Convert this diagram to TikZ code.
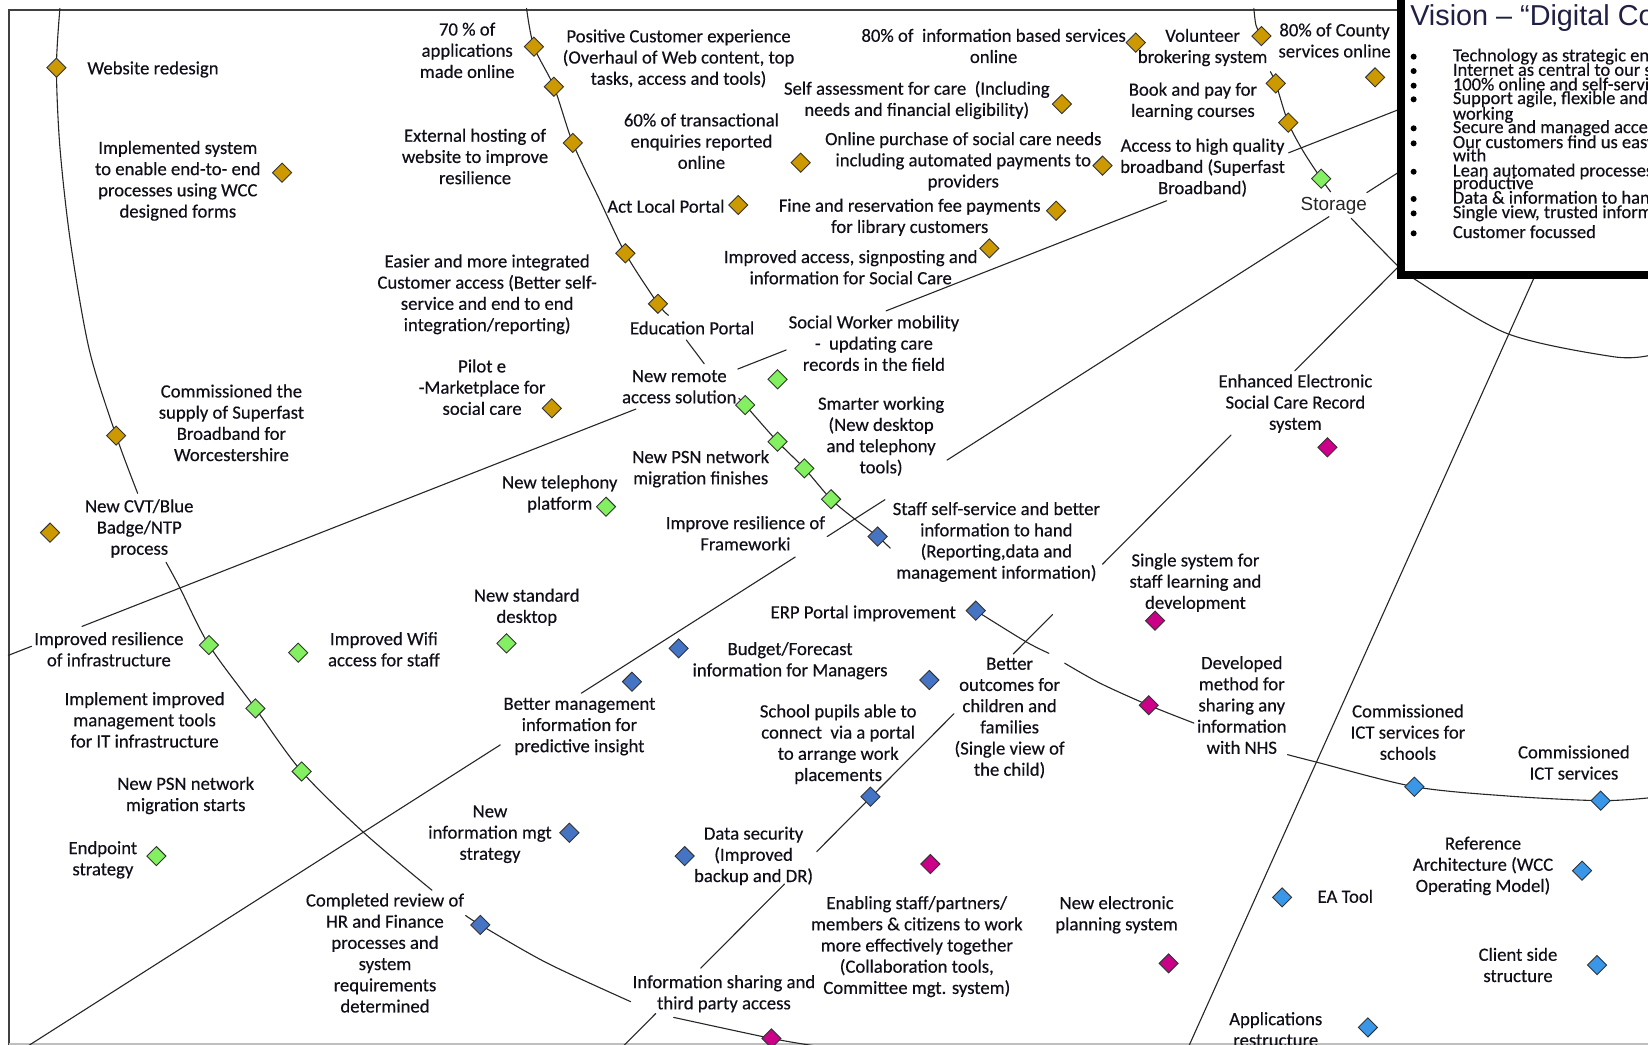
\documentclass[tikz,border=0pt]{standalone}
\usepackage{fontspec}
\setmainfont{Carlito}
\newfontfamily\labfont{Carlito}[FakeBold=0.35]
\newfontfamily\arialfont{Liberation Sans}
\usetikzlibrary{shapes.geometric}

\definecolor{gold}{RGB}{204,153,0}
\definecolor{lgreen}{RGB}{130,240,96}
\definecolor{steel}{RGB}{70,116,196}
\definecolor{mag}{RGB}{204,0,136}
\definecolor{sky}{RGB}{58,150,230}
\definecolor{ink}{RGB}{15,15,25}
\definecolor{navy}{RGB}{32,32,68}

\tikzset{
  ms/.style={diamond, draw=black!80, line width=0.9pt, inner sep=0pt, minimum size=19.5pt},
  mgold/.style={ms, fill=gold},
  mgreen/.style={ms, fill=lgreen},
  msteel/.style={ms, fill=steel},
  mmag/.style={ms, fill=mag},
  msky/.style={ms, fill=sky},
  road/.style={line width=1.1pt, draw=black!85, line cap=round},
  lab/.style={anchor=north, align=center, inner sep=0pt, text=ink, yshift=-2pt,
    font=\labfont\fontsize{18.7}{21.2}\selectfont,
    execute at begin node=\rule{0pt}{0.8em}},
  bul/.style={anchor=base west, inner sep=0pt, text=ink,
    font=\labfont\fontsize{18.5}{20}\selectfont},
  dot/.style={circle, fill=black, inner sep=0pt, minimum size=6pt},
}

\begin{document}
\begin{tikzpicture}[x=1.051pt, y=-1.051pt]
\useasboundingbox (0,0) rectangle (1568,994);
\clip (0,0) rectangle (1568,994);
\fill[white] (0,0) rectangle (1568,994);

% page frame
\draw[black!75, line width=1.4pt] (8.5,1000) -- (8.5,9.5) -- (1400,9.5);
\draw[black!25, line width=1.5pt] (8.5,993.3) -- (1568,993.3);

% ---- outer ring
\draw[road] plot[smooth] coordinates {(57,8) (53.7,64.4) (57,140) (67,230) (85,333) (110.5,414.5) (131,469.4)};
\draw[road] plot[smooth] coordinates {(158,535) (171,559) (198.8,613.7) (243,674) (287,734) (347,793) (411,847)};
\draw[road] plot[smooth] coordinates {(443,871) (457,880) (520,916) (600,953)};
\draw[road] plot[smooth] coordinates {(641,968) (734,988) (775,995)};

% ---- middle ring
\draw[road] plot[smooth] coordinates {(501,8) (508,44.4) (527,82.5) (545,136) (570,189) (595,241) (626,289) (636,300)};
\draw[road] (653,323.5) -- (670,346);
\draw[road] plot[smooth] coordinates {(703,379) (709,385.4) (739.8,420.2) (765.3,445.6) (790.7,475) (812.8,493.5) (835,510.5) (847,521.5)};
\draw[road] plot[smooth] coordinates {(928.4,581) (976,610.5) (998,621.6)};
\draw[road] plot[smooth] coordinates {(1013,631) (1046.6,650) (1093,671) (1136,688)};
\draw[road] plot[smooth] coordinates {(1225,718) (1251,724.7) (1345.7,748.5) (1435,757.4) (1523,761.8) (1570,759)};

% ---- inner ring
\draw[road] plot[smooth] coordinates {(1193,8) (1195,24) (1200.2,34.3)};
\draw[road] plot[smooth] coordinates {(1208.7,68.2) (1213.8,79.3) (1225.7,116.7) (1240,144) (1257,170) (1266,182.5)};
\draw[road] plot[smooth] coordinates {(1285.6,207.7) (1329,252) (1344.7,264.8) (1433.6,317.2) (1535,339.4) (1570,338)};

% ---- spokes
\draw[road] (1345,98.7) -- (1226,145.4);
\draw[road] (1110,191) -- (843,295.8);
\draw[road] (748,333) -- (702,351.1);
\draw[road] (605,389.2) -- (78,596);
\draw[road] (30,614.9) -- (8,623.5);

\draw[road] (1345,154.8) -- (1300.5,183.2);
\draw[road] (1264.5,206.1) -- (901,437.8);
\draw[road] (842,475.4) -- (787,510.5);
\draw[road] (756.6,530) -- (553,659.6);
\draw[road] (476,708.7) -- (20,999.4);

\draw[road] (1466,250) -- (1129,1000);

\draw[road] (1345,239.2) -- (1232,352.8);
\draw[road] (1171.3,413.9) -- (1049,536.8);
\draw[road] (1001.4,584.7) -- (964,622.3);
\draw[road] (907.7,679) -- (777,810.3);
\draw[road] (746.5,841) -- (666.7,921.2);
\draw[road] (624,964.2) -- (590,998.4);

% ---- vision panel
\draw[line width=8pt, fill=white] (1333,-40) rectangle (1700,261.6);
\node[anchor=base west, inner sep=0pt, text=navy, font=\arialfont\fontsize{28.8}{32}\selectfont]
  (vtitle) at (1341.6,24.5) {Vision – “Digital Council”};
\foreach \yy/\tt [count=\i] in {
  53.9/Technology as strategic enabler,
  67.6/Internet as central to our services,
  81.5/100\% online and self-service,
  94.5/Support agile{,} flexible and mobile,
  122.1/Secure and managed access,
  136.4/Our customers find us easy to deal,
  163.4/Lean automated processes to make us,
  189.3/Data \& information to hand,
  203/Single view{,} trusted information,
  222/Customer focussed}{
  \node[dot] (vb\i) at (1345,\yy) {};
  \node[bul] (vt\i) at (1382.2,\yy+4.5) {\tt};
}
\node[bul] (vw1) at (1382.2,113.9) {working};
\node[bul] (vw2) at (1382.2,153.6) {with};
\node[bul] (vw3) at (1382.2,179.9) {productive};

% ---- labels
\node[lab, anchor=north west] (t1) at (83,54.4) {Website redesign};
\node[lab] (t2) at (169.2,132) {Implemented system\\to enable end-to- end\\processes using WCC\\designed forms};
\node[lab] (t3) at (444.5,19.5) {70 \% of\\applications\\made online};
\node[lab] (t4) at (645.6,25.9) {Positive Customer experience\\(Overhaul of Web content, top\\tasks, access and tools)};
\node[lab] (t5) at (452,120.4) {External hosting of\\website to improve\\resilience};
\node[lab] (t6) at (463.5,240) {Easier and more integrated\\Customer access (Better self-\\service and end to end\\integration/reporting)};
\node[lab] (t7) at (658.5,301.8) {Education Portal};
\node[lab] (t8) at (633.6,186) {Act Local Portal};
\node[lab] (t9) at (667.4,105.8) {60\% of transactional\\enquiries reported\\online};
\node[lab] (t10) at (458.7,339.9) {Pilot e\\-Marketplace for\\social care};
\node[lab] (t11) at (220.2,363.7) {Commissioned the\\supply of Superfast\\Broadband for\\Worcestershire};
\node[lab] (t12) at (132.5,473) {New CVT/Blue\\Badge/NTP\\process};
\node[lab] (t13) at (945.4,25.3) {80\% of~ information based services\\online};
\node[lab] (t14) at (872.3,75) {Self assessment for care~ (Including\\needs and financial eligibility)};
\node[lab] (t15) at (916.5,123.6) {Online purchase of social care needs\\including automated payments to\\providers};
\node[lab] (t16) at (865.5,187) {Fine and reservation fee payments\\for library customers};
\node[lab] (t17) at (809.4,235.8) {Improved access, signposting and\\information for Social Care};
\node[lab] (t18) at (1144.2,25.3) {Volunteer\\brokering system};
\node[lab] (t19) at (1269.8,20.2) {80\% of County\\services online};
\node[lab] (t20) at (1135,76.6) {Book and pay for\\learning courses};
\node[lab] (t21) at (1144.2,129.9) {Access to high quality\\broadband (Superfast\\Broadband)};

\node[anchor=base, inner sep=0pt, text=black!85, font=\arialfont\fontsize{18.9}{22}\selectfont] (t22) at (1269,200) {Storage};
\node[lab] (t23) at (831.5,298) {Social Worker mobility\\-~ updating care\\records in the field};
\node[lab] (t24) at (646.3,350) {New remote\\access solution};
\node[lab] (t25) at (838.3,375.4) {Smarter working\\(New desktop\\and telephony\\tools)};
\node[lab] (t26) at (666.7,426.1) {New PSN network\\migration finishes};
\node[lab] (t27) at (709.2,489) {Improve resilience of\\Frameworki};
\node[lab] (t28) at (532.6,450.3) {New telephony\\platform};
\node[lab] (t29) at (501.2,558) {New standard\\desktop};
\node[lab] (t30) at (103.6,599.3) {Improved resilience\\of infrastructure};
\node[lab] (t31) at (365.3,599.3) {Improved Wifi\\access for staff};
\node[lab] (t32) at (137.6,656.4) {Implement improved\\management tools\\for IT infrastructure};
\node[lab] (t33) at (176.7,737) {New PSN network\\migration starts};
\node[lab] (t34) at (97.9,798.2) {Endpoint\\strategy};

\node[lab] (t35) at (948,475.6) {Staff self-service and better\\information to hand\\(Reporting,data and\\management information)};
\node[lab] (t36) at (821.3,572) {ERP Portal improvement};
\node[lab] (t37) at (751.7,608.8) {Budget/Forecast\\information for Managers};
\node[lab] (t38) at (551.3,661.8) {Better management\\information for\\predictive insight};
\node[lab] (t39) at (960.6,623.7) {Better\\outcomes for\\children and\\families\\(Single view of\\the child)};
\node[lab] (t40) at (797.5,668.1) {School pupils able to\\connect~ via a portal\\to arrange work\\placements};
\node[lab] (t41) at (466.2,764.2) {New\\information mgt\\strategy};
\node[lab] (t42) at (717,784.5) {Data security\\(Improved\\backup and DR)};
\node[lab] (t43) at (366.3,848) {Completed review of\\HR and Finance\\processes and\\system\\requirements\\determined};

\node[lab] (t44) at (1232.5,354.1) {Enhanced Electronic\\Social Care Record\\system};
\node[lab] (t45) at (1137.4,524.5) {Single system for\\staff learning and\\development};
\node[lab] (t46) at (1181.5,622.1) {Developed\\method for\\sharing any\\information\\with NHS};
\node[lab] (t47) at (872.3,850.5) {Enabling staff/partners/\\members \& citizens to work\\more effectively together\\(Collaboration tools,\\Committee mgt. system)};
\node[lab] (t48) at (1062.4,850.5) {New electronic\\planning system};
\node[lab] (t49) at (688.8,925.7) {Information sharing and\\third party access};

\node[lab] (t50) at (1339.6,668.1) {Commissioned\\ICT services for\\schools};
\node[lab] (t51) at (1497.5,707.1) {Commissioned\\ICT services};
\node[lab] (t52) at (1411,794) {Reference\\Architecture (WCC\\Operating Model)};
\node[lab] (t53) at (1280,842.6) {EA Tool};
\node[lab] (t54) at (1444.3,899.7) {Client side\\structure};
\node[lab] (t55) at (1213.8,960.9) {Applications\\restructure};

% ---- milestones
\node[mgold] (d1) at (53.7,64.4) {};
\node[mgold] (d2) at (268.4,164.3) {};
\node[mgold] (d3) at (508,44.4) {};
\node[mgold] (d4) at (527,82.5) {};
\node[mgold] (d5) at (545,136) {};
\node[mgold] (d6) at (595,241) {};
\node[mgold] (d7) at (626,289) {};
\node[mgold] (d8) at (702.4,195) {};
\node[mgold] (d9) at (761.8,154.8) {};
\node[mgold] (d10) at (525,388.5) {};
\node[mgold] (d11) at (110.5,414.5) {};
\node[mgold] (d12) at (47.6,506.8) {};
\node[mgold] (d13) at (1080.6,40.6) {};
\node[mgold] (d14) at (1010.4,99) {};
\node[mgold] (d15) at (1049,157.6) {};
\node[mgold] (d16) at (1004.8,200.5) {};
\node[mgold] (d17) at (941.3,236.3) {};
\node[mgold] (d18) at (1200.2,34.3) {};
\node[mgold] (d19) at (1308.3,73.6) {};
\node[mgold] (d20) at (1213.8,79.3) {};
\node[mgold] (d21) at (1225.7,116.7) {};

\node[mgreen] (g1) at (1257,170) {};
\node[mgreen] (g2) at (739.8,360.9) {};
\node[mgreen] (g3) at (709,385.4) {};
\node[mgreen] (g4) at (739.8,420.2) {};
\node[mgreen] (g5) at (765.3,445.6) {};
\node[mgreen] (g6) at (790.7,475) {};
\node[mgreen] (g7) at (576.6,482.1) {};
\node[mgreen] (g8) at (481.9,612.1) {};
\node[mgreen] (g9) at (198.8,613.7) {};
\node[mgreen] (g10) at (283.7,621) {};
\node[mgreen] (g11) at (243,674) {};
\node[mgreen] (g12) at (287,734) {};
\node[mgreen] (g13) at (148.8,814.5) {};

\node[msteel] (b1) at (835,510.5) {};
\node[msteel] (b2) at (928.4,581) {};
\node[msteel] (b3) at (645.7,616.9) {};
\node[msteel] (b4) at (601.3,648.6) {};
\node[msteel] (b5) at (884.2,647) {};
\node[msteel] (b6) at (828.2,758) {};
\node[msteel] (b7) at (541.7,792.3) {};
\node[msteel] (b8) at (651.4,814.5) {};
\node[msteel] (b9) at (457,880) {};

\node[mmag] (m1) at (1263,425.6) {};
\node[mmag] (m2) at (1099,590.5) {};
\node[mmag] (m3) at (1093,671) {};
\node[mmag] (m4) at (885.2,822.1) {};
\node[mmag] (m5) at (1111.9,916.6) {};
\node[mmag] (m6) at (734,988) {};

\node[msky] (s1) at (1345.7,748.5) {};
\node[msky] (s2) at (1523,761.8) {};
\node[msky] (s3) at (1505.2,828.4) {};
\node[msky] (s4) at (1219.9,853.8) {};
\node[msky] (s5) at (1519.5,918.2) {};
\node[msky] (s6) at (1301.5,977.5) {};
\end{tikzpicture}
\end{document}
